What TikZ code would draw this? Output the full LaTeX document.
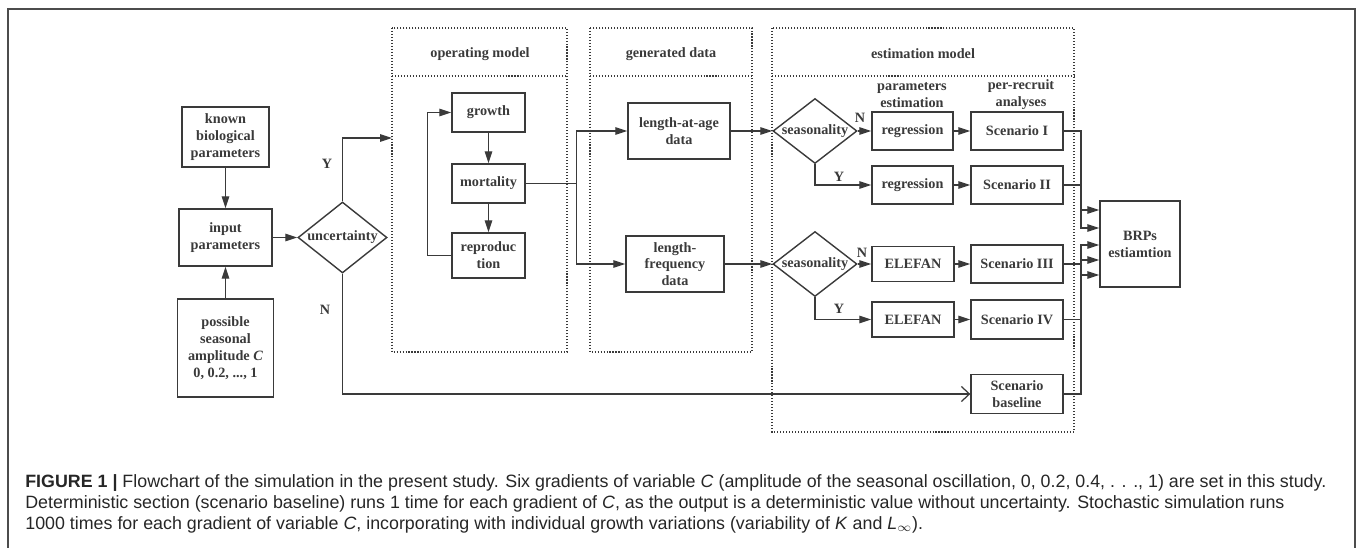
\documentclass[tikz,border=0pt]{standalone}
\usepackage{fontspec}
\setmainfont{Liberation Sans}
\newfontfamily\boxfont{Liberation Serif}
\usepackage{xcolor}
\usetikzlibrary{positioning,shapes.geometric,arrows.meta,calc}
\definecolor{ink}{HTML}{3A3A3A}

\begin{document}
\begin{tikzpicture}[x=0.02cm, y=-0.02cm,
							box/.style = {draw=ink, line width=0.8pt, align=center, inner sep=0pt, text=ink, font=\boxfont\bfseries\fontsize{8.1}{9.6}\selectfont},
							dec/.style = {diamond, draw=ink, line width=0.8pt, inner sep=0pt},
							lbl/.style = {text=ink, align=center, inner sep=0pt, font=\boxfont\bfseries\fontsize{8.1}{9.6}\selectfont},
							zone/.style = {draw=ink, line width=0.7pt, dash pattern=on 0.6pt off 1.1pt},
							arr/.style = {draw=ink, line width=0.7pt, -{Triangle[length=0.24cm,width=0.15cm]}},
							captxt/.style = {anchor=base west, inner sep=0pt, text=black!85, font=\fontsize{10.15}{12}\selectfont}]
			\useasboundingbox (0,0) rectangle (1360,548);
			\draw[black!70, line width=0.6pt] (8,548) -- (8,9) -- (1355,9) -- (1355,548);
			
			% dotted groups
			\draw[zone] (392,28) rectangle (567,352);
			\draw[zone] (392,76) -- (567,76);
			\draw[zone] (590,28) rectangle (752,352);
			\draw[zone] (590,76) -- (752,76);
			\draw[zone] (772,28) rectangle (1074,432);
			\draw[zone] (772,76) -- (1074,76);
			\node[lbl] (hom) at (480,54) {operating model};
			\node[lbl] (hgd) at (671,54) {generated data};
			\node[lbl] (hem) at (923,54) {estimation model};
			\node[lbl] (hpe) at (912,95) {parameters\\estimation};
			\node[lbl] (hpr) at (1021,95) {per-recruit\\analyses};
			
			\node[box, minimum width=1.74cm, minimum height=1.2cm] (known) at (225.5,137) {known\\biological\\parameters};
			\node[box, minimum width=1.86cm, minimum height=1.14cm] (input) at (225.5,237.5) {input\\parameters};
			\node[box, minimum width=1.92cm, minimum height=1.96cm] (possible) at (225.5,348) {possible\\seasonal\\amplitude \textit{C}\\0, 0.2, ..., 1};
			\node[dec, minimum width=1.78cm, minimum height=1.42cm, label={[lbl]center:uncertainty}] (unc) at (342.5,237.5) {};
			\coordinate (omin) at (392,138);
			
			\node[box, minimum width=1.46cm, minimum height=0.78cm] (growth) at (488.5,112.5) {growth};
			\node[box, minimum width=1.46cm, minimum height=0.78cm] (mort) at (488.5,183.5) {mortality};
			\node[box, minimum width=1.46cm, minimum height=0.9cm] (repro) at (488.5,255.5) {reproduc\\tion};
			
			\node[box, minimum width=2.04cm, minimum height=1.12cm] (laa) at (679,131) {length-at-age\\data};
			\node[box, minimum width=1.96cm, minimum height=1.12cm] (lfd) at (675,264) {length-\\frequency\\data};
			
			\node[dec, minimum width=1.68cm, minimum height=1.3cm, label={[lbl]center:seasonality}] (seas1) at (815,131) {};
			\node[dec, minimum width=1.68cm, minimum height=1.3cm, label={[lbl]center:seasonality}] (seas2) at (815,264) {};
			\node[box, minimum width=1.62cm, minimum height=0.76cm] (reg1) at (912.5,131) {regression};
			\node[box, minimum width=1.62cm, minimum height=0.76cm] (reg2) at (912.5,185) {regression};
			\node[box, minimum width=1.64cm, minimum height=0.7cm] (ele1) at (913,264) {ELEFAN};
			\node[box, minimum width=1.64cm, minimum height=0.7cm] (ele2) at (913,319.5) {ELEFAN};
			\node[box, minimum width=1.84cm, minimum height=0.76cm] (sc1) at (1017,131) {Scenario I};
			\node[box, minimum width=1.84cm, minimum height=0.76cm] (sc2) at (1017,185) {Scenario II};
			\node[box, minimum width=1.84cm, minimum height=0.76cm] (sc3) at (1017,264) {Scenario III};
			\node[box, minimum width=1.84cm, minimum height=0.78cm] (sc4) at (1017,319.5) {Scenario IV};
			\node[box, minimum width=1.84cm, minimum height=0.78cm] (scb) at (1017,394) {Scenario\\baseline};
			\node[box, minimum width=1.6cm, minimum height=1.72cm] (brp) at (1140,244) {BRPs\\estiamtion};
			\coordinate (bus) at (1081,0);
			
			\draw[arr] (known.south) -- (input.north);
			\draw[arr] (possible.north) -- (input.south);
			\draw[arr] (input.east) -- (unc.west);
			\draw[arr] (unc.north) |- (omin);
			\draw[draw=ink, line width=0.7pt, -{Straight Barb[length=0.16cm,width=0.3cm]}] (unc.south) |- (scb.west);
			\node[lbl] (uy) at (327,164) {Y};
			\node[lbl] (un) at (325,310) {N};
			
			\draw[arr] (growth.south) -- (mort.north);
			\draw[arr] (mort.south) -- (repro.north);
			\draw[arr] (repro.west) -- ++(-24,0) |- (growth.west);
			\draw[arr] (mort.east) -- ++(51,0) |- (laa.west);
			\draw[arr] (mort.east) -- ++(51,0) |- (lfd.west);
			\draw[arr] (laa.east) -- (seas1.west);
			\draw[arr] (lfd.east) -- (seas2.west);
			
			\draw[arr] (seas1.east) -- (reg1.west);
			\draw[arr] (seas1.south) |- (reg2.west);
			\draw[arr] (seas2.east) -- (ele1.west);
			\draw[arr] (seas2.south) |- (ele2.west);
			\node[lbl] (n1) at (860,118) {N};
			\node[lbl] (y1) at (839,177) {Y};
			\node[lbl] (n2) at (862,253) {N};
			\node[lbl] (y2) at (839,309) {Y};
			\draw[arr] (reg1.east) -- (sc1.west);
			\draw[arr] (reg2.east) -- (sc2.west);
			\draw[arr] (ele1.east) -- (sc3.west);
			\draw[arr] (ele2.east) -- (sc4.west);
			\foreach \s/\dy in {sc1/0.68, sc2/0.32, sc3/-0.02, sc4/-0.32, scb/-0.62}
				\draw[arr] (\s.east) -- (\s.east -| bus) |- ([yshift=\dy cm]brp.west);
			
			% caption
			\node[captxt] (cap1) at (25,487) {\textbf{FIGURE 1 |} Flowchart of the simulation in the present study. Six gradients of variable \textit{C} (amplitude of the seasonal oscillation, 0, 0.2, 0.4, . . ., 1) are set in this study.};
			\node[captxt] (cap2) at (25,508) {Deterministic section (scenario baseline) runs 1 time for each gradient of \textit{C}, as the output is a deterministic value without uncertainty. Stochastic simulation runs};
			\node[captxt] (cap3) at (25,529) {1000 times for each gradient of variable \textit{C}, incorporating with individual growth variations (variability of \textit{K} and \textit{L}$_\infty$).};
		\end{tikzpicture}
\end{document}
